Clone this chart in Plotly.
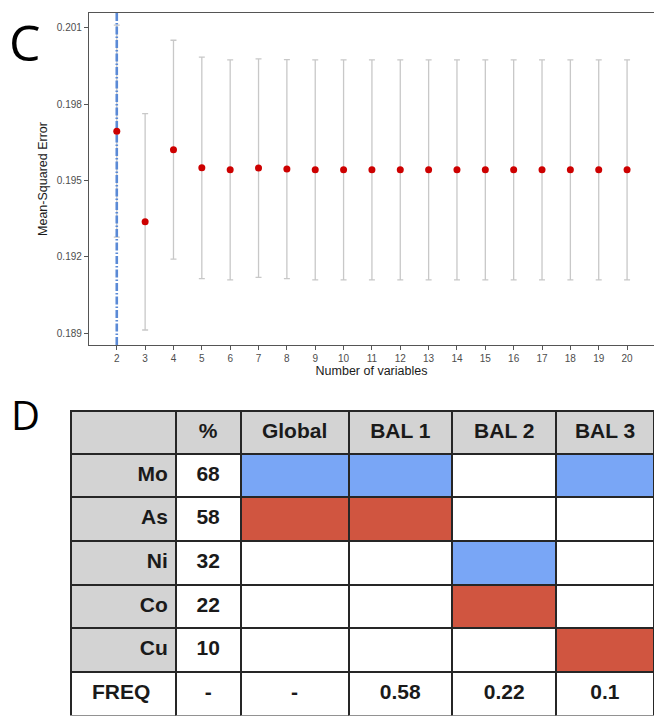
import plotly.graph_objects as go

# ---------------- Panel C data ----------------
n_vars = [2, 3, 4, 5, 6, 7, 8, 9, 10, 11, 12, 13, 14, 15, 16, 17, 18, 19, 20]
mse = [0.19694, 0.19338, 0.19621, 0.19550, 0.19542, 0.19549, 0.19545, 0.19542, 0.19542,
       0.19542, 0.19542, 0.19542, 0.19542, 0.19542, 0.19542, 0.19542, 0.19542, 0.19542, 0.19542]
mse_err = [0.00416, 0.00425, 0.00430, 0.00435, 0.00432, 0.00429, 0.00430, 0.00432, 0.00432,
           0.00432, 0.00432, 0.00432, 0.00432, 0.00432, 0.00432, 0.00432, 0.00432, 0.00432, 0.00432]
selected_nvars = 2
y_ticks = [0.189, 0.192, 0.195, 0.198, 0.201]

# ---------------- Panel D data ----------------
elements = ["Mo", "As", "Ni", "Co", "Cu"]
percent = ["68", "58", "32", "22", "10"]
models = ["Global", "BAL 1", "BAL 2", "BAL 3"]
# 1 = blue, -1 = red, 0 = empty
membership = {
    "Global": [1, -1, 0, 0, 0],
    "BAL 1": [1, -1, 0, 0, 0],
    "BAL 2": [0, 0, 1, -1, 0],
    "BAL 3": [1, 0, 0, 0, -1],
}
freq = ["-", "0.58", "0.22", "0.1"]

BLUE = "#79A6F6"
RED = "#D05540"
GRAY = "#D3D3D3"
WHITE = "#FFFFFF"

y_range = [0.18854, 0.20158]
x_range = [1.02, 20.95]

fig = go.Figure()

# error bars (under the selection line)
fig.add_trace(go.Scatter(
    x=n_vars, y=mse, mode="markers",
    marker=dict(size=1, color="rgba(0,0,0,0)"),
    error_y=dict(type="data", array=mse_err, visible=True,
                 color="#C8C8C8", thickness=1.3, width=3),
    hoverinfo="skip", showlegend=False))

# selected number of variables line
fig.add_trace(go.Scatter(
    x=[selected_nvars, selected_nvars], y=y_range, mode="lines",
    line=dict(color="#5B8AD6", width=2.6, dash="8px,2px,1.5px,2px"),
    hoverinfo="skip", showlegend=False))

# points
fig.add_trace(go.Scatter(
    x=n_vars, y=mse, mode="markers",
    marker=dict(size=7, color="#CD0000"),
    showlegend=False))

# ---------------- Table ----------------
def color_of(v):
    return BLUE if v == 1 else (RED if v == -1 else WHITE)

label_col = ["<b>%s</b>" % e for e in elements] + ["<b>FREQ</b>\u00a0\u00a0\u00a0"]
pct_col = ["<b>%s</b>" % p for p in percent] + ["<b>-</b>"]
model_cols = []
fill_cols = [[GRAY] * len(elements) + [WHITE], [WHITE] * (len(elements) + 1)]
for m, f in zip(models, freq):
    model_cols.append([""] * len(elements) + ["<b>%s</b>" % f])
    fill_cols.append([color_of(v) for v in membership[m]] + [WHITE])

fig.add_trace(go.Table(
    domain=dict(x=[71 / 654, 1.0], y=[0.0, 1 - 410.5 / 716]),
    columnwidth=[105, 65, 108, 104, 104, 98],
    header=dict(
        values=[""] + ["<b>%</b>"] + ["<b>%s</b>" % m for m in models],
        fill_color=GRAY,
        line=dict(color="#262626", width=2),
        align="center",
        font=dict(family="Liberation Sans", size=21, color="#1A1A1A"),
        height=43,
    ),
    cells=dict(
        values=[label_col, pct_col] + model_cols,
        fill_color=fill_cols,
        line=dict(color="#262626", width=2),
        align=["right", "center", "center", "center", "center", "center"],
        font=dict(family="Liberation Sans", size=21, color="#1A1A1A"),
        height=43.7,
    ),
))

fig.update_layout(
    width=654, height=716,
    margin=dict(l=0, r=0, t=0, b=0),
    paper_bgcolor="white", plot_bgcolor="white",
    font=dict(family="Liberation Sans"),
    xaxis=dict(
        domain=[89 / 654, 1.0], range=x_range,
        tickmode="array", tickvals=n_vars, ticktext=[str(v) for v in n_vars],
        showgrid=False, zeroline=False,
        showline=True, linecolor="#555555", linewidth=1.3, mirror=True,
        ticks="outside", ticklen=4, tickcolor="#555555",
        tickfont=dict(size=10, color="#4D4D4D"),
        title=dict(text="Number of variables", font=dict(size=12.5, color="#1A1A1A"), standoff=1),
    ),
    yaxis=dict(
        domain=[1 - 345 / 716, 1 - 13 / 716], range=y_range,
        tickmode="array", tickvals=y_ticks, ticktext=["%.3f" % t for t in y_ticks],
        showgrid=False, zeroline=False,
        showline=True, linecolor="#555555", linewidth=1.3,
        ticks="outside", ticklen=4, tickcolor="#555555",
        tickfont=dict(size=10, color="#4D4D4D"),
        title=dict(text="Mean-Squared Error", font=dict(size=12.5, color="#1A1A1A"), standoff=6),
    ),
    annotations=[
        dict(text="C", x=25 / 654, y=1 - 42 / 716, xref="paper", yref="paper",
             xanchor="center", yanchor="middle",
             showarrow=False, font=dict(family="Open Sans", size=50, color="black")),
        dict(text="D", x=25 / 654, y=1 - 414 / 716, xref="paper", yref="paper",
             xanchor="center", yanchor="middle",
             showarrow=False, font=dict(family="Open Sans", size=40, color="black")),
    ],
)

fig.write_html(
    "out.html",
    config={"displayModeBar": False},
    post_script="document.body.style.margin='0';document.body.style.overflow='hidden';",
)
